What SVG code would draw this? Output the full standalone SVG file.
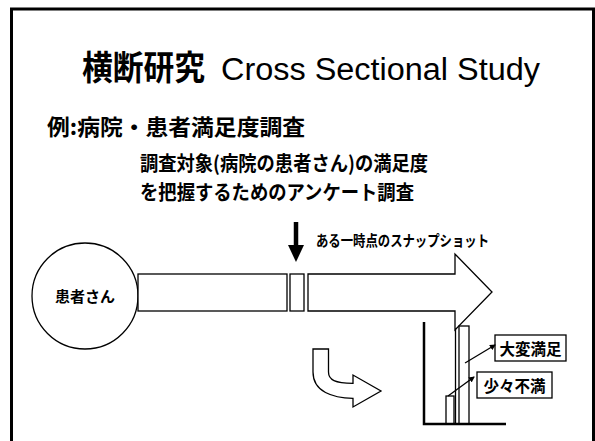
<svg xmlns="http://www.w3.org/2000/svg" width="595" height="441" viewBox="0 0 595 441">
<defs>
<style>
.jp{font-family:"Noto Sans CJK JP","Liberation Sans",sans-serif;font-weight:bold;fill:#000}
.en{font-family:"Liberation Sans",Arial,sans-serif;fill:#000}
.ol{fill:#fff;stroke:#000;stroke-width:1.3}
.ln{fill:none;stroke:#000;stroke-width:1.3}
.ax{fill:none;stroke:#000;stroke-width:2.5}
</style>
<marker id="ah" markerWidth="6" markerHeight="6" refX="5" refY="3" orient="auto" markerUnits="userSpaceOnUse">
<path d="M0,0 L6,3 L0,6 z" fill="#000"/>
</marker>
</defs>
<rect width="595" height="441" fill="#fff"/>
<g id="frame">
<path d="M11.5,441 V9 H593.5 V441" fill="none" stroke="#000" stroke-width="3"/>
</g>
<g id="title">
<text class="jp" x="82" y="80" font-size="34" textLength="123" lengthAdjust="spacingAndGlyphs">横断研究</text>
<text class="en" x="221" y="80" font-size="31" textLength="319" lengthAdjust="spacingAndGlyphs">Cross Sectional Study</text>
</g>
<g id="example">
<text class="jp" x="47" y="135" font-size="22" textLength="258" lengthAdjust="spacingAndGlyphs">例:病院・患者満足度調査</text>
</g>
<g id="description">
<text class="jp" x="140" y="171" font-size="20" textLength="288" lengthAdjust="spacingAndGlyphs">調査対象(病院の患者さん)の満足度</text>
<text class="jp" x="140" y="200" font-size="20" textLength="274" lengthAdjust="spacingAndGlyphs">を把握するためのアンケート調査</text>
</g>
<g id="patient">
<circle class="ol" cx="85" cy="296" r="53"/>
<text class="jp" x="85" y="302" font-size="15" text-anchor="middle">患者さん</text>
</g>
<g id="timeline">
<rect class="ol" x="138" y="274" width="149" height="37"/>
<rect class="ol" x="290" y="274" width="14" height="37"/>
<path class="ol" d="M308,274 H455 V254 L492,292 L455,330 V311 H308 Z"/>
</g>
<g id="snapshot">
<path d="M296,222 V247" stroke="#000" stroke-width="4.5"/>
<path d="M288,245 H304 L296,262 Z" fill="#000"/>
<text class="jp" x="316" y="246" font-size="15" textLength="173" lengthAdjust="spacingAndGlyphs">ある一時点のスナップショット</text>
</g>
<g id="chart">
<rect class="ol" x="446" y="396" width="8" height="28"/>
<path class="ln" d="M455.5,329 V424"/>
<rect class="ol" x="459" y="326" width="10" height="98"/>
<path class="ax" d="M424,322 V424 H506"/>
</g>
<g id="label-very-satisfied">
<rect class="ol" x="495" y="335" width="71" height="26"/>
<text class="jp" x="530.5" y="354.5" font-size="16" text-anchor="middle" textLength="62" lengthAdjust="spacingAndGlyphs">大変満足</text>
</g>
<g id="label-slightly-dissatisfied">
<rect class="ol" x="477" y="372" width="75" height="26"/>
<text class="jp" x="514.5" y="391.5" font-size="16" text-anchor="middle" textLength="62" lengthAdjust="spacingAndGlyphs">少々不満</text>
</g>
<g id="connectors">
<path class="ln" d="M465,363 L495,345" marker-end="url(#ah)"/>
<path class="ln" d="M448,396 L474,377" marker-end="url(#ah)"/>
<path class="ol" d="M313,349 H328.5 V372 C328.5,380 335,383 353,383.3 V375 L381,391 L353,407 V398.3 C333,398 313,392 313,372 Z"/>
</g>
</svg>
